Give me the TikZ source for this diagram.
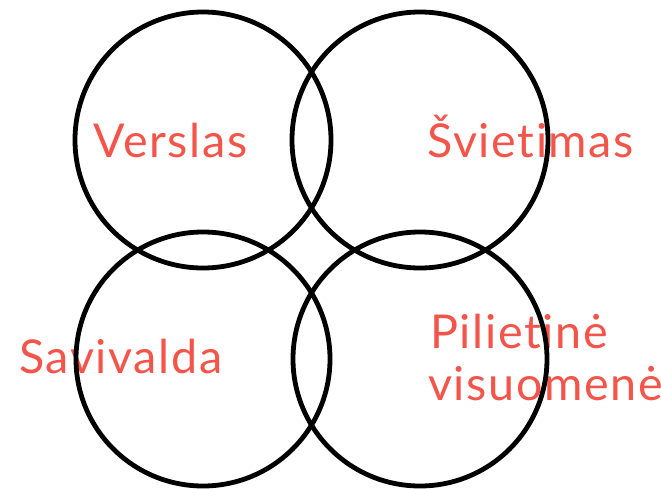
\documentclass[tikz,border=0pt]{standalone}
\usepackage{fontspec}
\setmainfont{Lato}[Ligatures=NoCommon,LetterSpace=3.5]
\definecolor{lbl}{HTML}{F4554A}
\begin{document}
\begin{tikzpicture}[x=0.75pt,y=-0.75pt,
  ring/.style={draw=black,line width=3.6pt},
  lbltext/.style={text=lbl,font=\fontsize{35}{39}\selectfont,inner sep=0pt,anchor=base west}]
\useasboundingbox (0,0) rectangle (661,489);
\node[lbltext] (t1) at (93,157) {Verslas};
\node[lbltext] (t2) at (427,157) {Švietimas};
\node[lbltext] (t3) at (19,373) {Savivalda};
\node[lbltext] (t4) at (430,348) {Pilietinė};
\node[lbltext] (t5) at (428,400) {visuomenė};
\coordinate (c1) at (203,140);
\coordinate (c2) at (420,140);
\coordinate (c3) at (203,359);
\coordinate (c4) at (420,359);
\draw[ring] (c1) circle[radius=128];
\draw[ring] (c2) circle[radius=128];
\draw[ring] (c3) circle[radius=127];
\draw[ring] (c4) circle[radius=127];
\end{tikzpicture}
\end{document}
